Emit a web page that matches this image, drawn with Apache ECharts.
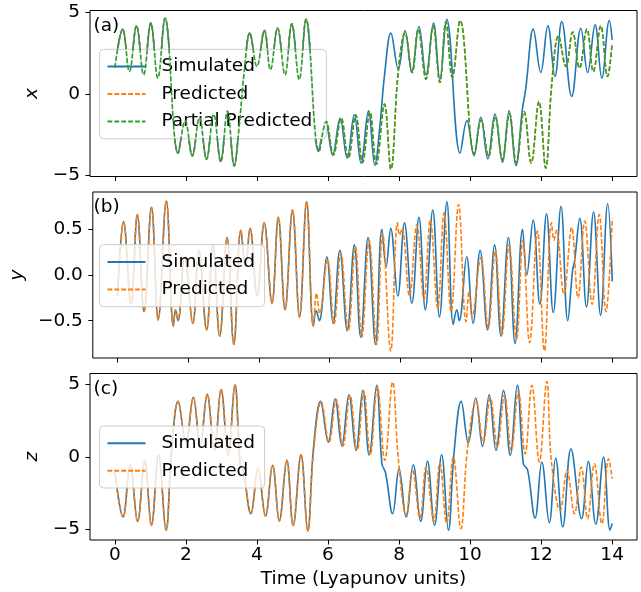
<!DOCTYPE html>
<html><head><meta charset="utf-8">
<script src="https://cdn.jsdelivr.net/npm/echarts@6.0.0/dist/echarts.min.js"></script>
<style>html,body{margin:0;padding:0;background:#fff}#c{width:641px;height:592px}</style>
</head><body><div id="c"></div>
<script>
// ---------- tick values ----------
const xTicks = [0, 2, 4, 6, 8, 10, 12, 14];
const aTicks = [-5, 0, 5];
const bTicks = [-0.5, 0, 0.5];
const cTicks = [-5, 0, 5];

// ---------- panel (a): x ----------
const xShared = [[0,1.6],[0.22,3.95],[0.41,1.36],[0.61,4.15],[0.81,1.16],[1.01,4.32],[1.21,0.96],[1.41,4.62],
 [1.78,-3.62],[1.98,-1.65],[2.18,-3.79],[2.38,-1.45],[2.58,-3.99],[2.78,-1.25],[2.98,-4.14],[3.17,-1.05],[3.36,-4.40],
 [3.49,-2.2],[3.64,1.3],[3.8,3.71],[4.0,1.67],[4.21,3.87],[4.38,1.47],[4.58,4.01],[4.79,1.16],[4.98,4.28],[5.19,0.86],[5.38,4.56]];
const xSimTail = [[5.73,-3.52],[5.93,-1.69],[6.13,-3.73],[6.34,-1.49],[6.54,-3.93],[6.74,-1.28],[6.93,-4.23],[7.14,-1.04],[7.32,-4.38],
 [7.45,-2.2],[7.6,1.3],[7.77,3.71],[7.98,1.5],[8.17,3.85],[8.36,1.36],[8.56,4.11],[8.76,1.16],[8.97,4.32],[9.15,0.86],[9.34,4.56],
 [9.72,-3.62],[9.91,-1.63],[10.11,-3.77],[10.3,-1.43],[10.5,-3.97],[10.7,-1.24],[10.91,-4.17],[11.1,-1.04],[11.29,-4.38],
 [11.47,-1.0],[11.57,0.35],[11.78,3.95],[11.99,1.3],[12.19,4.15],[12.39,1.06],[12.58,4.42],[12.86,-0.16],[13.12,4.01],
 [13.31,1.3],[13.52,4.21],[13.71,0.96],[13.92,4.48],[14.0,3.3]];
const xPredTail = [[5.75,-3.5],[5.95,-1.69],[6.15,-3.73],[6.37,-1.49],[6.57,-3.93],[6.78,-1.3],[6.97,-4.2],[7.18,-1.1],[7.36,-4.3],
 [7.59,-0.63],[7.77,-4.6],[7.98,1.4],[8.17,3.71],[8.37,1.3],[8.54,3.95],[8.76,0.9],[8.96,4.15],[9.15,0.7],[9.32,4.4],
 [9.5,1.0],[9.72,4.48],[10.12,-3.67],[10.31,-1.59],[10.52,-3.83],[10.71,-1.38],[10.91,-4.03],[11.11,-1.2],[11.3,-4.23],
 [11.52,-1.08],[11.72,-4.23],[11.94,-0.47],[12.13,-4.54],[12.3,0.6],[12.49,3.54],[12.7,1.67],[12.89,3.77],[13.08,1.57],
 [13.29,3.95],[13.47,1.36],[13.68,4.15],[13.87,1.06],[14.0,3.1]];

// ---------- panel (b): y ----------
const yShared = [[0,-0.23],[0.17,0.585],[0.38,-0.32],[0.56,0.66],[0.75,-0.40],[0.96,0.74],[1.15,-0.49],[1.38,0.81],
 [1.58,-0.56],[1.64,-0.38],[1.71,-0.50],[1.9,0.2],[2.13,-0.53],[2.3,0.27],[2.52,-0.60],[2.7,0.33],[2.89,-0.67],[3.1,0.41],
 [3.29,-0.76],[3.49,0.49],[3.62,0.09],[3.75,0.51],[3.95,-0.23],[4.15,0.57],[4.37,-0.31],[4.55,0.63],[4.74,-0.38],
 [4.95,0.71],[5.15,-0.46],[5.35,0.80],[5.54,-0.56]];
const ySimTail = [[5.62,-0.39],[5.71,-0.50],[5.92,0.2],[6.1,-0.53],[6.29,0.27],[6.5,-0.61],[6.7,0.33],[6.88,-0.68],[7.09,0.41],
 [7.3,-0.76],[7.48,0.5],[7.6,0.09],[7.73,0.51],[7.93,-0.23],[8.12,0.57],[8.33,-0.31],[8.53,0.63],[8.71,-0.38],[8.92,0.71],
 [9.11,-0.46],[9.32,0.80],[9.5,-0.54],[9.6,-0.38],[9.67,-0.5],[9.88,0.2],[10.06,-0.53],[10.26,0.27],[10.47,-0.6],[10.67,0.33],
 [10.85,-0.67],[11.06,0.41],[11.25,-0.75],[11.46,0.5],[11.58,0.0],[11.76,0.6],[11.95,-0.32],[12.14,0.67],[12.33,-0.41],
 [12.55,0.75],[12.74,-0.5],[12.88,0.06],[12.93,0.14],[13.08,0.62],[13.27,-0.35],[13.47,0.69],[13.67,-0.44],[13.87,0.78],[14.0,-0.07]];
const yPredTail = [[5.63,-0.2],[5.72,-0.42],[5.94,0.17],[6.13,-0.53],[6.32,0.24],[6.53,-0.61],[6.73,0.31],[6.91,-0.68],
 [7.12,0.38],[7.33,-0.76],[7.5,0.45],[7.73,-0.83],[7.92,0.57],[7.98,0.44],[8.05,0.51],[8.26,-0.23],[8.47,0.55],[8.67,-0.27],
 [8.85,0.6],[9.06,-0.36],[9.24,0.68],[9.44,-0.40],[9.65,0.77],[9.86,-0.51],[9.95,-0.18],[10.03,-0.46],[10.28,0.19],
 [10.49,-0.58],[10.69,0.27],[10.88,-0.65],[11.08,0.33],[11.29,-0.70],[11.47,0.38],[11.66,-0.74],[11.88,0.48],[12.08,-0.83],
 [12.28,0.57],[12.35,0.38],[12.42,0.49],[12.63,-0.21],[12.85,0.52],[13.03,-0.25],[13.22,0.59],[13.43,-0.32],[13.63,0.66],
 [13.82,-0.40],[14.0,0.62]];

// ---------- panel (c): z ----------
const zShared = [[0,-1.0],[0.23,-4.15],[0.43,-0.55],[0.64,-4.45],[0.84,-0.3],[1.03,-4.72],[1.23,0.14],[1.44,-5.06],[1.6,0.5],
 [1.78,3.81],[2.0,1.0],[2.21,4.1],[2.4,0.74],[2.6,4.29],[2.8,0.44],[2.99,4.63],[3.19,0.1],[3.38,4.95],[3.53,-0.5],[3.62,-1.05],
 [3.83,-3.92],[4.03,-0.82],[4.24,-4.08],[4.44,-0.59],[4.63,-4.42],[4.84,-0.25],[5.02,-4.72],[5.24,0.14],[5.43,-5.11]];
const zSimTail = [[5.59,0.55],[5.79,3.81],[6.01,1.01],[6.2,3.99],[6.39,0.74],[6.59,4.27],[6.79,0.44],[6.98,4.57],[7.16,0.1],
 [7.37,4.91],[7.52,-0.5],[7.62,-1.1],[7.82,-3.92],[8.0,-0.82],[8.2,-4.15],[8.4,-0.55],[8.61,-4.45],[8.8,-0.3],[9.0,-4.72],
 [9.2,0.14],[9.39,-5.06],[9.55,0.3],[9.75,3.81],[9.95,0.96],[10.16,4.04],[10.35,0.71],[10.54,4.27],[10.73,0.44],[10.94,4.57],
 [11.13,0.1],[11.33,4.91],[11.5,-0.48],[11.62,-0.9],[11.83,-4.22],[12.02,-0.36],[12.23,-4.54],[12.41,-0.09],[12.61,-4.84],
 [12.84,0.55],[13.14,-4.26],[13.33,-0.32],[13.54,-4.65],[13.76,-0.02],[13.94,-5.06],[14.0,-4.6]];
const zPredTail = [[5.6,0.5],[5.81,3.78],[6.03,1.0],[6.23,3.95],[6.42,0.72],[6.62,4.22],[6.82,0.44],[7.01,4.5],[7.19,0.12],
 [7.39,4.8],[7.6,-0.25],[7.82,5.14],[7.98,-0.14],[8.2,-4.03],[8.38,-0.94],[8.59,-4.22],[8.76,-0.71],[8.98,-4.45],[9.15,-0.41],
 [9.34,-4.6],[9.53,-0.02],[9.74,-4.95],[9.93,0.6],[10.17,3.81],[10.37,0.96],[10.57,4.04],[10.77,0.71],[10.97,4.27],[11.16,0.44],
 [11.36,4.5],[11.55,0.2],[11.74,4.91],[11.95,-0.36],[12.16,5.18],[12.29,-0.3],[12.54,-3.69],[12.73,-0.94],[12.94,-3.92],
 [13.13,-0.71],[13.31,-4.26],[13.5,-0.48],[13.71,-4.61],[13.9,-0.14],[14.0,-1.5]];

// ---------- build ----------
const FONT = 'DejaVu Sans';
const FS = 18.5;
const BLUE = '#1f77b4', ORANGE = '#ff7f0e', GREEN = '#2ca02c';
const DASH = [4.8, 2.1];
const LW = 1.6;

const grids = [
  {top: 10.5, height: 166},
  {top: 192, height: 166},
  {top: 373.5, height: 166.5}
].map(g => Object.assign({left: 90, right: 4, show: true, borderColor: '#000', borderWidth: 1, backgroundColor: 'transparent'}, g));

const xAxes = [0,1,2].map(i => ({
  gridIndex: i, type: 'value', min: -0.7, max: 14.7,
  axisLine: {show: false, onZero: false},
  axisTick: {show: true, length: 4.5, lineStyle: {color: '#000', width: 1}, customValues: xTicks},
  axisLabel: {show: i === 2, customValues: xTicks, fontSize: FS, fontFamily: FONT, color: '#000', margin: 6},
  splitLine: {show: false},
  name: i === 2 ? 'Time (Lyapunov units)' : '',
  nameLocation: 'middle', nameGap: 30,
  nameTextStyle: {fontSize: FS, fontFamily: FONT, color: '#000'}
}));

function minus(s){ return s.replace('-', '\u2212'); }
const yCfg = [
  {min: -5.05, max: 5.09, ticks: aTicks, fmt: v => minus(String(v)), name: 'x', gap: 36},
  {min: -0.908, max: 0.908, ticks: bTicks, fmt: v => minus(v.toFixed(1)), name: 'y', gap: 54},
  {min: -5.73, max: 5.73, ticks: cTicks, fmt: v => minus(String(v)), name: 'z', gap: 36}
];
const yAxes = yCfg.map((c, i) => ({
  gridIndex: i, type: 'value', min: c.min, max: c.max,
  axisLine: {show: false, onZero: false},
  axisTick: {show: true, length: 4.5, lineStyle: {color: '#000', width: 1}, customValues: c.ticks},
  axisLabel: {customValues: c.ticks, formatter: c.fmt, fontSize: FS, fontFamily: FONT, color: '#000', margin: 10},
  splitLine: {show: false},
  name: c.name, nameLocation: 'middle', nameGap: c.gap, nameRotate: 90,
  nameTextStyle: {fontSize: FS, fontFamily: FONT, fontStyle: 'italic', color: '#000'}
}));

function line(name, data, idx, color, dashed, z) {
  return {
    name, type: 'line', xAxisIndex: idx, yAxisIndex: idx, data,
    symbol: 'none', showSymbol: false, smooth: 0.4, z,
    color, lineStyle: {color, width: LW, type: dashed ? DASH : 'solid'},
    emphasis: {disabled: true}, clip: true
  };
}
const xPred = xShared.concat(xPredTail);
const series = [
  line('Simulated', xShared.concat(xSimTail), 0, BLUE, false, 2),
  line('Predicted', xPred, 0, ORANGE, true, 3),
  line('Partial Predicted', xPred, 0, GREEN, true, 4),
  line('Simulated', yShared.concat(ySimTail), 1, BLUE, false, 2),
  line('Predicted', yShared.concat(yPredTail), 1, ORANGE, true, 3),
  line('Simulated', zShared.concat(zSimTail), 2, BLUE, false, 2),
  line('Predicted', zShared.concat(zPredTail), 2, ORANGE, true, 3)
];

function legend(top, names, rightPad) {
  return {
    left: 99.5, top, orient: 'vertical', data: names,
    itemWidth: 38, itemHeight: 14, itemGap: 8.5,
    padding: [7.75, rightPad, 7.75, 7],
    backgroundColor: 'rgba(255,255,255,0.8)', borderColor: '#cccccc', borderWidth: 1, borderRadius: 4,
    itemStyle: {opacity: 0},
    textStyle: {fontSize: FS, fontFamily: FONT, color: '#000', lineHeight: 18.5, padding: [0, 0, 0, 11]},
    selectedMode: false
  };
}

const panelLabels = ['(a)', '(b)', '(c)'];
const graphic = panelLabels.map((t, i) => ({
  type: 'text', left: 93.5, top: grids[i].top + 6,
  style: {text: t, font: FS + 'px "' + FONT + '"', fill: '#000'}
}));

const chart = echarts.init(document.getElementById('c'), null, {renderer: 'canvas'});
chart.setOption({
  animation: false,
  backgroundColor: '#fff',
  grid: grids, xAxis: xAxes, yAxis: yAxes, series,
  legend: [
    legend(49.3, ['Simulated', 'Predicted', 'Partial Predicted'], 14),
    legend(244.7, ['Simulated', 'Predicted'], 9.6),
    legend(426, ['Simulated', 'Predicted'], 9.6)
  ],
  graphic
});
</script></body></html>
